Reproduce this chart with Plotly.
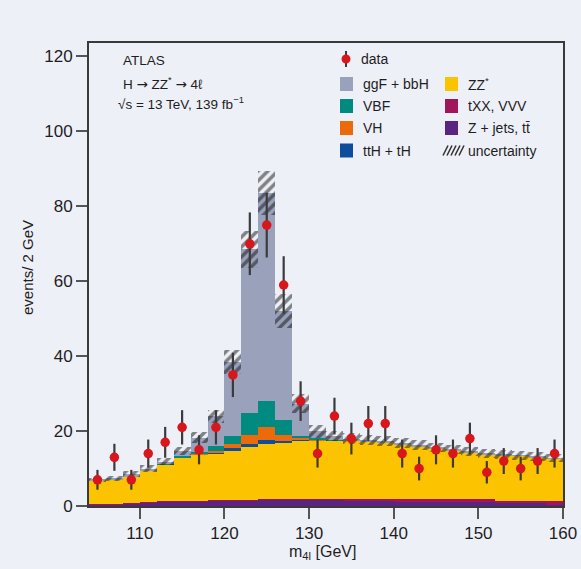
import numpy as np
import plotly.graph_objects as go

# Four-lepton invariant mass, 2 GeV bins from 104 to 160 GeV
m4l = list(range(105, 160, 2))  # bin centres [GeV]

data = [7, 13, 7, 14, 17, 21, 15, 21, 35, 70, 75, 59, 28, 14,
        24, 18, 22, 22, 14, 10, 15, 14, 18, 9, 12, 10, 12, 14]

# Expected yields per bin, listed bottom-to-top in stacking order
zjets = [0.5, 0.5, 0.7, 0.9, 1.1, 1.1, 1.1, 1.4, 1.4, 1.4, 1.7, 1.7, 1.7, 1.7,
         1.7, 1.6, 1.6, 1.3, 1.2, 1.2, 1.2, 1.2, 1.2, 1.2, 0.7, 0.7, 0.7, 0.3]
txx = [0.15, 0.15, 0.15, 0.15, 0.2, 0.2, 0.2, 0.25, 0.25, 0.25, 0.25, 0.25, 0.25, 0.25,
       0.25, 0.25, 0.3, 0.6, 0.7, 0.7, 0.7, 0.7, 0.7, 0.7, 0.6, 0.6, 0.6, 1.1]
zz = [6.15, 6.35, 7.15, 8.35, 9.7, 11.6, 12.4, 12.45, 13.25, 14.05, 14.65, 14.95, 15.45, 15.65,
      15.65, 15.55, 15.2, 15.1, 14.6, 14.1, 13.5, 13.0, 12.4, 11.9, 12.3, 12.1, 11.6, 11.2]
tth = [0, 0, 0, 0, 0, 0, 0.05, 0.1, 0.5, 0.8, 1.1, 0.5, 0.1, 0,
       0, 0, 0, 0, 0, 0, 0, 0, 0, 0, 0, 0, 0, 0]
vh = [0, 0, 0, 0, 0.05, 0.1, 0.15, 0.4, 1.1, 2.4, 3.3, 1.5, 0.6, 0.15,
      0, 0, 0, 0, 0, 0, 0, 0, 0, 0, 0, 0, 0, 0]
vbf = [0, 0, 0, 0.1, 0.3, 0.4, 0.4, 1.3, 2.3, 5.8, 6.9, 4.0, 0.6, 0.3,
       0.15, 0, 0, 0, 0, 0, 0, 0, 0, 0, 0, 0, 0, 0]
ggf = [0.2, 0.3, 0.5, 0.5, 0.45, 1.2, 3.9, 8.0, 19.7, 43.8, 55.6, 29.1, 8.6, 1.95,
       0.95, 0.6, 0.5, 0.4, 0.3, 0.3, 0.2, 0.2, 0.2, 0.2, 0.2, 0.2, 0.2, 0.2]

# Half-width of the total systematic + statistical uncertainty band
unc = [0.6, 0.6, 0.8, 0.85, 0.9, 1.1, 1.5, 1.8, 3.2, 5.0, 5.9, 4.6, 2.5, 1.75,
       1.3, 1.4, 1.4, 1.4, 1.3, 1.3, 1.3, 1.3, 1.2, 1.2, 1.2, 1.2, 1.2, 1.1]

x_ticks = [110, 120, 130, 140, 150, 160]
y_ticks = [0, 20, 40, 60, 80, 100, 120]

BG = "#eef0f8"
FONT = "Liberation Sans"
COLORS = {
    "zjets": "#5b2482",
    "txx": "#a3155a",
    "zz": "#fcc400",
    "tth": "#0c4d9c",
    "vh": "#ea6a0c",
    "vbf": "#008a80",
    "ggf": "#99a1bb",
}

layers = [("zjets", zjets), ("txx", txx), ("zz", zz), ("tth", tth),
          ("vh", vh), ("vbf", vbf), ("ggf", ggf)]

fig = go.Figure()

base = np.zeros(len(m4l))
for key, vals in layers:
    vals = np.asarray(vals, dtype=float)
    fig.add_trace(go.Bar(
        x=m4l, y=vals, base=base.copy(), width=2,
        marker=dict(color=COLORS[key], line=dict(width=0)),
        showlegend=False, hoverinfo="skip",
    ))
    base = base + vals
total = base
unc_arr = np.asarray(unc)

# hatched uncertainty band around the total expectation
fig.add_trace(go.Bar(
    x=m4l, y=2 * unc_arr, base=total - unc_arr, width=2,
    marker=dict(color="rgba(0,0,0,0)", line=dict(width=0),
                pattern=dict(shape="/", fgcolor="#111111", size=7,
                             solidity=0.5, fillmode="overlay")),
    showlegend=False, hoverinfo="skip",
))

data_arr = np.asarray(data, dtype=float)
fig.add_trace(go.Scatter(
    x=m4l, y=data_arr, mode="markers",
    marker=dict(color="#d8161c", size=9.5),
    error_y=dict(type="data", array=np.sqrt(data_arr), color="#3b3b3b",
                 thickness=2.2, width=0),
    showlegend=False,
))

W, H = 581, 569
ML, MR, MT, MB = 89, 18, 43, 63
PW, PH = W - ML - MR, H - MT - MB


def px(x):
    return (x - ML) / PW


def py(y):
    return (H - MB - y) / PH


shapes = []
annotations = []


def text(x, y, s, size=14, anchor="left", **kw):
    annotations.append(dict(x=px(x), y=py(y), xref="paper", yref="paper",
                            text=s, showarrow=False, xanchor=anchor,
                            yanchor="middle",
                            font=dict(family=FONT, size=size, color="#1e1e1e"),
                            **kw))


def swatch(x, y, color):
    shapes.append(dict(type="rect", xref="paper", yref="paper",
                       x0=px(x), x1=px(x + 13), y0=py(y + 7), y1=py(y - 7),
                       fillcolor=color, line=dict(width=0)))


ARROW = '<span style="font-family:DejaVu Sans">\u2192</span>'

# Header text
text(121, 60, "ATLAS", 13.5)
text(121, 83, f"H {ARROW} ZZ<sup>*</sup> {ARROW} 4\u2113", 13.5)
text(116, 103, "\u221As = 13 TeV, 139 fb<sup>\u22121</sup>", 13.5)

# Legend: data entry
shapes.append(dict(type="line", xref="paper", yref="paper",
                   x0=px(346), x1=px(346), y0=py(51), y1=py(67),
                   line=dict(color="#3b3b3b", width=2)))
shapes.append(dict(type="circle", xref="paper", yref="paper",
                   x0=px(341.5), x1=px(350.5), y0=py(63.5), y1=py(54.5),
                   fillcolor="#d8161c", line=dict(width=0)))
text(359, 59, "data", 14)

rows = [84, 106, 128, 150.5]
left_col = [("ggf", "ggF + bbH"), ("vbf", "VBF"), ("vh", "VH"), ("tth", "ttH + tH")]
right_col = [("zz", "ZZ<sup>*</sup>"), ("txx", "tXX, VVV"), ("zjets", "Z + jets, tt\u0304")]
for yrow, (key, label) in zip(rows, left_col):
    swatch(340, yrow, COLORS[key])
    text(361, yrow, label, 14)
for yrow, (key, label) in zip(rows, right_col):
    swatch(445, yrow, COLORS[key])
    text(466, yrow, label, 14)

# hatch swatch for the uncertainty entry
yh = rows[3]
for k in range(5):
    x0 = 443 + 4 * k
    shapes.append(dict(type="line", xref="paper", yref="paper",
                       x0=px(x0), x1=px(x0 + 5), y0=py(yh + 5), y1=py(yh - 5),
                       line=dict(color="#333333", width=1.6)))
text(466, yh, "uncertainty", 14)

# Axis titles
text(322, 552, "m<sub>4l</sub> [GeV]", 16, anchor="center")
annotations.append(dict(x=px(27), y=py(267), xref="paper", yref="paper",
                        text="events/ 2 GeV", showarrow=False, textangle=-90,
                        xanchor="center", yanchor="middle",
                        font=dict(family=FONT, size=15, color="#1e1e1e")))

fig.update_layout(
    width=W, height=H,
    margin=dict(l=ML, r=MR, t=MT, b=MB, pad=0, autoexpand=False),
    paper_bgcolor=BG, plot_bgcolor=BG,
    barmode="overlay", bargap=0,
    showlegend=False,
    shapes=shapes, annotations=annotations,
    font=dict(family=FONT, color="#1e1e1e"),
)
fig.update_xaxes(
    range=[104, 160], tickvals=x_ticks, ticks="outside", ticklen=11,
    tickwidth=1.5, tickcolor="#555555", showgrid=False, zeroline=False,
    showline=True, linecolor="#3a3a3a", linewidth=2, mirror=True,
    automargin=False,
    tickfont=dict(family=FONT, size=17, color="#1e1e1e"),
)
fig.update_yaxes(
    range=[0, 123.6], tickvals=y_ticks, ticks="outside", ticklen=11,
    tickwidth=1.5, tickcolor="#555555", showgrid=False, zeroline=False,
    showline=True, linecolor="#3a3a3a", linewidth=2, mirror=True,
    automargin=False,
    tickfont=dict(family=FONT, size=17, color="#1e1e1e"),
)

fig.write_html("out.html")
